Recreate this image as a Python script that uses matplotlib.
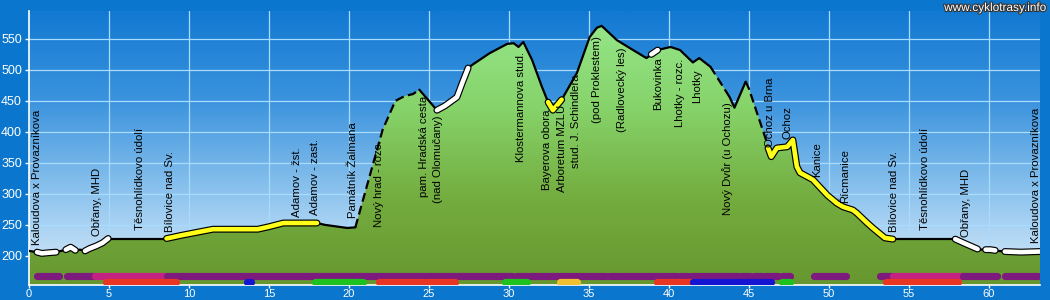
import numpy as np
import matplotlib
matplotlib.use("Agg")
import matplotlib.pyplot as plt
from matplotlib.colors import LinearSegmentedColormap
import matplotlib.patheffects as pe

plt.rcParams['font.family'] = ['Liberation Sans', 'DejaVu Sans']

# ---------------- data ----------------
km = [0.0, 0.5, 0.8, 1.2, 1.7, 2.0, 2.3, 2.6, 2.9, 3.2, 3.5, 3.8, 4.2, 4.6, 4.95,
      5.0, 8.6, 9.5, 10.5, 11.5, 14.3, 15.0, 15.9, 18.0, 18.5, 19.9, 20.4,
      22.1, 22.9, 23.5, 24.0, 24.4, 25.0, 25.5, 26.0, 26.75, 27.1, 27.45, 27.7,
      28.8, 29.9, 30.3, 30.6, 30.9, 31.45, 32.06, 32.45, 32.75, 33.3, 34.25,
      35.05, 35.5, 35.8, 36.75, 37.7, 38.6, 38.9, 39.3, 40.1, 40.7, 41.5, 41.9,
      42.6, 43.8, 44.1, 44.8, 45.0, 46.1, 46.2, 46.4, 46.75, 47.4, 47.75, 48.0,
      48.2, 49.0, 49.9, 50.5, 50.9, 51.5, 51.75, 52.4, 52.75, 53.5, 54.0, 57.9,
      58.5, 59.3, 59.6, 60.1, 60.6, 61.0, 62.0, 63.2]
elev = [208, 206, 204, 205, 206, 208, 210, 214, 209, 210, 208, 212, 216, 221, 228,
        228, 228, 233, 238, 243, 243, 247, 253, 253, 250, 245, 246,
        403, 450, 458, 461, 468, 450, 435, 442, 456, 480, 503, 508,
        527, 542, 543, 537, 545, 516, 473, 448, 435, 452, 495,
        553, 568, 571, 548, 533, 519, 525, 532, 537, 532, 512, 519,
        505, 456, 439, 481, 470, 385, 374, 360, 374, 376, 387, 344,
        334, 323, 298, 285, 279, 274, 269, 253, 245, 229, 227, 227,
        220, 211, 210, 210, 208, 207, 206, 207]

# line style sections: (style, from km, to km)
sections = [
    ("solid", 0.0, 0.5), ("white", 0.5, 1.7), ("solid", 1.7, 2.3), ("white", 2.3, 2.9),
    ("solid", 2.9, 3.5), ("white", 3.5, 4.95), ("solid", 4.95, 8.6), ("yellow", 8.6, 18.0),
    ("solid", 18.0, 20.4), ("dashed", 20.4, 24.4), ("solid", 24.4, 25.5),
    ("white", 25.5, 27.45), ("solid", 27.45, 32.45), ("yellow", 32.45, 33.3),
    ("solid", 33.3, 38.9), ("white", 38.9, 39.3), ("solid", 39.3, 42.6),
    ("dashed", 42.6, 43.8), ("solid", 43.8, 44.8), ("dashed", 44.8, 46.2),
    ("yellow", 46.2, 54.0), ("solid", 54.0, 57.9), ("white", 57.9, 59.3),
    ("solid", 59.3, 59.8), ("white", 59.8, 60.4), ("solid", 60.4, 61.0),
    ("white", 61.0, 63.2),
]

# place labels: (text, km, elevation of label bottom)
label_text = ["Kaloudova x Provazníkova", "Obřany, MHD", "Těsnohlídkovo údolí",
              "Bílovice nad Sv.", "Adamov - žst.", "Adamov - zast.", "Památník Žalmana",
              "Nový hrad - rozc.", "pam. Hradská cesta", "(nad Olomučany)",
              "Klostermannova stud.", "Bayerova obora", "Arboretum MZLU",
              "stud. J. Schindlera", "(pod Proklestem)", "(Radlovecký les)", "Bukovinka",
              "Lhotky - rozc.", "Lhotky", "Nový Dvůr (u Ochozu)", "Ochoz u Brna", "Ochoz",
              "Kanice", "Řícmanice", "Bílovice nad Sv.", "Těsnohlídkovo údolí",
              "Obřany, MHD", "Kaloudova x Provazníkova"]
label_km = [0.5, 4.25, 6.95, 8.8, 16.75, 17.9, 20.25, 21.9, 24.7, 25.55,
            30.75, 32.4, 33.3, 34.2, 35.5, 37.05, 39.3, 40.7, 41.75, 43.7,
            46.3, 47.4, 49.25, 51.0, 54.1, 56.0, 58.6, 62.95]
label_base = [218, 232, 242, 239, 263, 266, 261, 247, 295, 285,
              352, 306, 303, 342, 414, 400, 435, 408, 447, 266,
              376, 389, 327, 285, 239, 242, 231, 221]

# bottom route-type bars: (from km, to km, colour)
row1_bars = [(0.5, 1.9, "purple"), (2.4, 4.1, "purple"), (4.1, 8.6, "magenta"),
             (8.6, 30.2, "purple"), (30.45, 30.8, "purple"), (30.9, 36.05, "purple"),
             (36.25, 36.75, "purple"), (36.9, 39.75, "purple"), (39.9, 40.5, "purple"),
             (40.7, 41.2, "purple"), (41.4, 43.8, "purple"), (43.9, 44.4, "purple"),
             (44.6, 45.1, "purple"), (45.3, 45.8, "purple"), (46.0, 46.8, "purple"),
             (47.1, 47.6, "purple"), (49.1, 51.05, "purple"), (53.2, 54.0, "purple"),
             (54.0, 58.4, "magenta"), (58.4, 60.5, "purple"), (61.0, 63.1, "purple")]
row2_bars = [(4.25, 4.25, "yellow"), (4.8, 9.2, "red"), (13.65, 13.85, "blue"),
             (17.75, 17.75, "blue"), (17.85, 20.9, "green"), (21.9, 24.6, "red"),
             (24.8, 26.6, "red"), (29.75, 31.1, "green"), (33.2, 34.25, "yellow"),
             (39.1, 39.1, "blue"), (39.25, 41.5, "red"), (41.5, 46.4, "blue"),
             (47.1, 47.6, "green"), (53.6, 58.1, "red"), (58.6, 58.6, "yellow")]
bar_colors = {"purple": "#7d1a7d", "magenta": "#c42282", "red": "#ea3522",
              "green": "#1ec21e", "blue": "#1414d2", "yellow": "#f0c030"}
row1_elev = 168
row2_elev = 158

x_ticks = [0, 5, 10, 15, 20, 25, 30, 35, 40, 45, 50, 55, 60]
y_ticks = [200, 250, 300, 350, 400, 450, 500, 550]
x_max = 63.2
y_min, y_max = 153, 595

# ---------------- figure ----------------
fig = plt.figure(figsize=(10.5, 3.0), dpi=100)
fig.patch.set_facecolor("#0b76ce")
ax = fig.add_axes([29 / 1050, 15 / 300, 1011 / 1050, 274 / 300])
ax.set_xlim(0, x_max)
ax.set_ylim(y_min, y_max)

# sky gradient
sky = LinearSegmentedColormap.from_list("sky", ["#dcedfb", "#8ec4ee", "#3d94de", "#1279d2"])
grad = np.linspace(0, 1, 256).reshape(-1, 1)
ax.imshow(grad, cmap=sky, origin="lower", aspect="auto",
          extent=[0, x_max, y_min, y_max], zorder=0)

# grid
for xv in x_ticks[1:]:
    ax.axvline(xv, color="#a8dcff", lw=0.9, zorder=1)
for yv in y_ticks:
    ax.axhline(yv, color="#a8dcff", lw=0.9, zorder=1)

# terrain fill with gradient
poly = ax.fill_between(km, elev, y_min, facecolor="none", edgecolor="none", zorder=2)
green = LinearSegmentedColormap.from_list("grn", ["#67972f", "#74ad40", "#86d36a", "#96e68a"])
im = ax.imshow(grad, cmap=green, origin="lower", aspect="auto",
               extent=[0, x_max, y_min, 580], zorder=2)
im.set_clip_path(poly.get_paths()[0], transform=ax.transData)

# profile line sections
km_arr = np.array(km, dtype=float)
el_arr = np.array(elev, dtype=float)
for style, a, b in sections:
    mask = (km_arr > a) & (km_arr < b)
    xs = np.concatenate([[a], km_arr[mask], [b]])
    ys = np.interp(xs, km_arr, el_arr)
    if style == "solid":
        ax.plot(xs, ys, color="black", lw=1.6, zorder=4, solid_capstyle="round")
    elif style == "dashed":
        ax.plot(xs, ys, color="black", lw=1.6, zorder=4, dashes=(4, 2))
    else:
        fc = "white" if style == "white" else "#ffff1a"
        ax.plot(xs, ys, color=fc, lw=3.3, zorder=5, solid_capstyle="round",
                solid_joinstyle="round",
                path_effects=[pe.Stroke(linewidth=5.0, foreground="black"), pe.Normal()])

# route-type bars
for row, yrow in ((row1_bars, row1_elev), (row2_bars, row2_elev)):
    for a, b, c in row:
        ax.plot([a, b], [yrow, yrow], color=bar_colors[c], lw=5.2,
                solid_capstyle="round", zorder=3)

# place labels
for t, xk, yb in zip(label_text, label_km, label_base):
    ax.text(xk, yb, t, rotation=90, ha="center", va="bottom", fontsize=8.2,
            color="black", zorder=6)

# axes styling
ax.set_xticks(x_ticks)
ax.set_yticks(y_ticks)
ax.tick_params(colors="white", labelcolor="white", labelsize=9, length=3, width=1,
               direction="out", pad=2)
ax.tick_params(axis="x", labelsize=8, length=2.5, pad=0.5)
for s in ("top", "right"):
    ax.spines[s].set_visible(False)
for s in ("left", "bottom"):
    ax.spines[s].set_color("white")
    ax.spines[s].set_linewidth(1.2)

fig.text(1046 / 1050, 1 - 8 / 300, "www.cyklotrasy.info", ha="right", va="center",
         color="white", fontsize=8.5,
         path_effects=[pe.Stroke(linewidth=1.6, foreground="#333333"), pe.Normal()])

fig.savefig("out.png", dpi=100, facecolor=fig.get_facecolor())
